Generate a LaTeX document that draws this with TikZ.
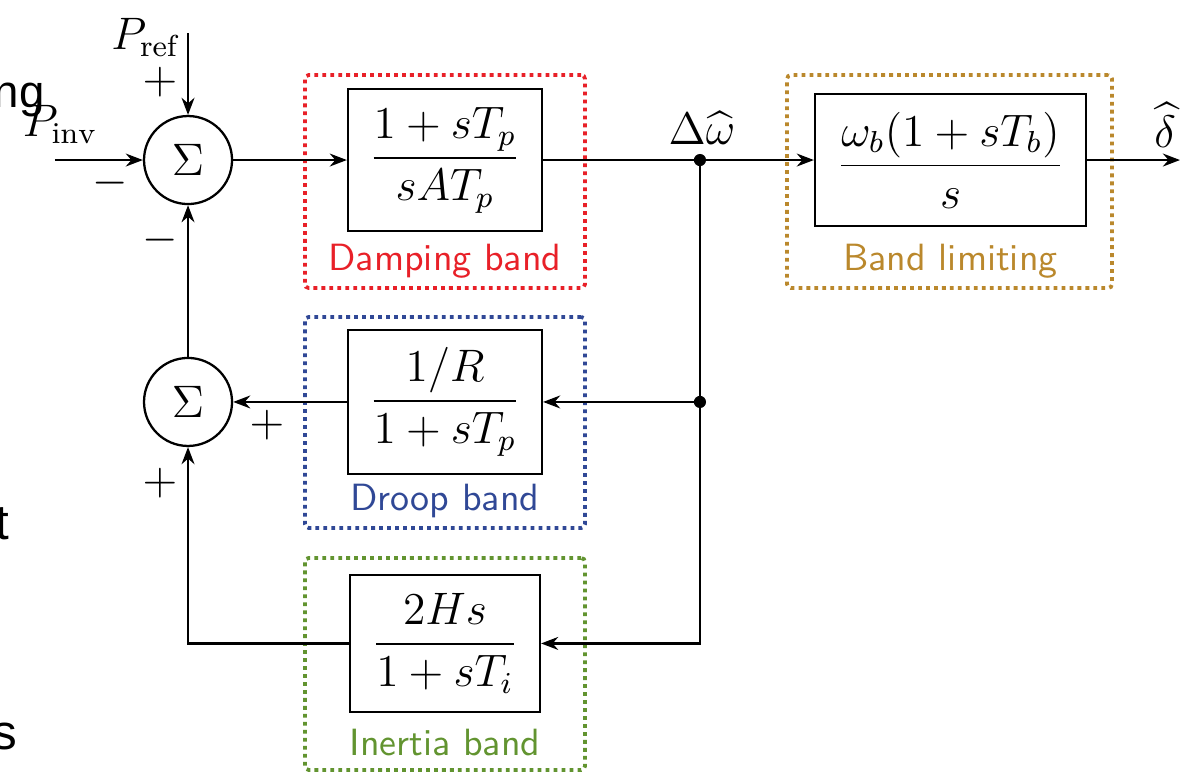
\documentclass[tikz,border=0pt]{standalone}
\usepackage{amsmath,amssymb}
\usepackage{fontspec}
\usepackage{tikz}
\usetikzlibrary{arrows.meta, positioning, calc}
\newfontfamily\pagefont{Liberation Sans}
\definecolor{dampred}{RGB}{232,32,40}
\definecolor{droopblue}{RGB}{48,72,150}
\definecolor{inertgreen}{RGB}{98,148,48}
\definecolor{bandgold}{RGB}{186,136,44}
\tikzset{
  sumnode/.style={draw, circle, semithick, minimum size=0.815cm, inner sep=0pt},
  blk/.style={draw, semithick, inner sep=0pt},
  frm/.style={draw, line width=1pt, dash pattern=on 1pt off 1.1pt, rounded corners=1pt, inner sep=0pt},
  lbl/.style={font=\sffamily},
  sig/.style={-{Stealth[length=4.5pt,width=3.4pt]}, semithick}
}
\begin{document}
\begin{tikzpicture}[font=\large]
  \useasboundingbox (0,0) rectangle (11.028,7.213);
  % stray page text
  \node[anchor=base west, inner sep=0pt, font=\pagefont\fontsize{12}{14}\selectfont] (pgng) at (-0.065,6.22) {ng};
  \node[anchor=base west, inner sep=0pt, font=\pagefont\fontsize{13}{15}\selectfont] (pgt) at (-0.05,2.213) {t};
  \node[anchor=base east, inner sep=0pt, font=\pagefont\fontsize{13}{15}\selectfont] (pgs) at (0.167,0.269) {s};
  % dotted bands
  \node[frm, dampred, minimum width=2.593cm, minimum height=1.972cm] (dampfrm) at (4.120,5.532) {};
  \node[frm, bandgold, minimum width=3.009cm, minimum height=1.972cm] (bandfrm) at (8.792,5.532) {};
  \node[frm, droopblue, minimum width=2.593cm, minimum height=1.954cm] (droopfrm) at (4.120,3.301) {};
  \node[frm, inertgreen, minimum width=2.593cm, minimum height=1.963cm] (inertfrm) at (4.120,1.065) {};
  \node[lbl, dampred] (damplbl) at (4.120,4.796) {Damping band};
  \node[lbl, bandgold] (bandlbl) at (8.801,4.796) {Band limiting};
  \node[lbl, droopblue] (drooplbl) at (4.120,2.573) {Droop band};
  \node[lbl, inertgreen] (inertlbl) at (4.120,0.342) {Inertia band};
  % blocks
  \node[sumnode] (sum1) at (1.741,5.731) {$\Sigma$};
  \node[sumnode] (sum2) at (1.741,3.491) {$\Sigma$};
  \node[blk, minimum width=1.796cm, minimum height=1.315cm] (damp) at (4.120,5.731) {$\dfrac{1+sT_p}{sAT_p}$};
  \node[blk, minimum width=2.509cm, minimum height=1.222cm] (band) at (8.801,5.731) {$\dfrac{\omega_b(1+sT_b)}{s}$};
  \node[blk, minimum width=1.796cm, minimum height=1.333cm] (droop) at (4.120,3.491) {$\dfrac{1/R}{1+sT_p}$};
  \node[blk, minimum width=1.759cm, minimum height=1.269cm] (inert) at (4.120,1.255) {$\dfrac{2Hs}{1+sT_i}$};
  % inputs, outputs, branch points
  \coordinate (pref) at (1.741,6.907);
  \coordinate (pinv) at (0.509,5.731);
  \coordinate (outp) at (10.926,5.731);
  \coordinate (j1) at (6.481,5.731);
  \coordinate (j2) at (6.481,3.491);
  \coordinate (j3) at (6.481,1.255);
  \coordinate (c1) at (1.741,1.255);
  \node (preflbl) at (1.343,6.861) {$P_{\mathrm{ref}}$};
  \node (pinvlbl) at (0.556,6.056) {$P_{\mathrm{inv}}$};
  \node (dwlbl) at (6.5,6.028) {$\Delta\widehat{\omega}$};
  \node (dlbl) at (10.787,6.056) {$\widehat{\delta}$};
  \node (s1a) at (1.481,6.454) {$+$};
  \node (s1b) at (1.019,5.519) {$-$};
  \node (s1c) at (1.481,4.991) {$-$};
  \node (s2a) at (2.472,3.278) {$+$};
  \node (s2b) at (1.481,2.741) {$+$};
  % connectors
  \draw[sig] (pref) -- (sum1);
  \draw[sig] (pinv) -- (sum1);
  \draw[sig] (sum1) -- (damp);
  \draw[semithick] (damp) -- (j1);
  \draw[sig] (j1) -- (band);
  \draw[sig] (band) -- (outp);
  \draw[sig] (j1) -- (j2) -- (droop);
  \draw[sig] (j2) -- (j3) -- (inert);
  \draw[sig] (droop) -- (sum2);
  \draw[sig] (inert) -- (c1) -- (sum2);
  \draw[sig] (sum2) -- (sum1);
  \fill (j1) circle (1.6pt);
  \fill (j2) circle (1.6pt);
\end{tikzpicture}
\end{document}
